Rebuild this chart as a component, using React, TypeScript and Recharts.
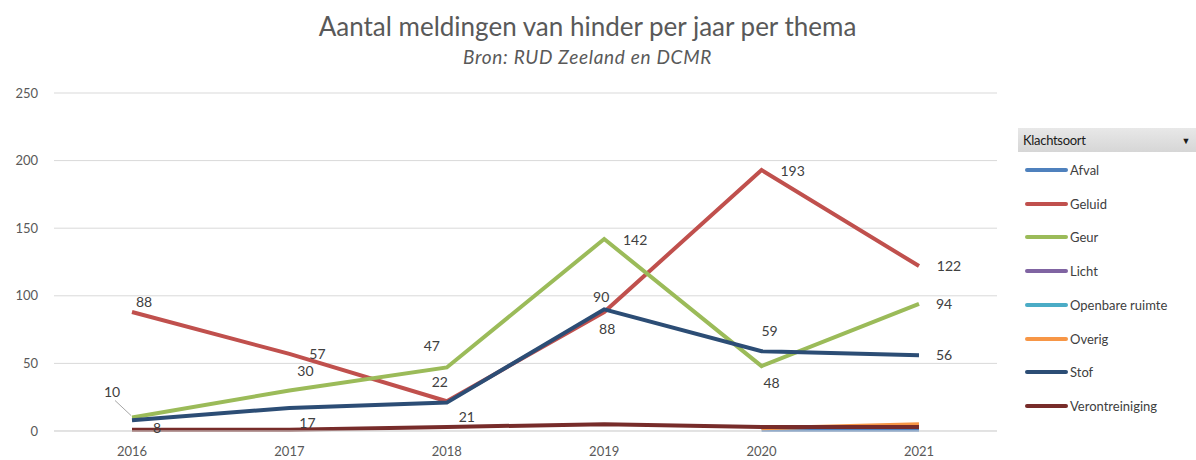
import React from 'react'
import { LineChart, Line, XAxis, YAxis, CartesianGrid } from 'recharts'

const years = ['2016', '2017', '2018', '2019', '2020', '2021']
const afval = [null, null, null, null, 1, 1]
const geluid = [88, 57, 22, 88, 193, 122]
const geur = [10, 30, 47, 142, 48, 94]
const licht = [null, null, null, null, null, null]
const openbareRuimte = [null, null, null, null, null, null]
const overig = [null, null, null, null, 2, 5]
const stof = [8, 17, 21, 90, 59, 56]
const verontreiniging = [1, 1, 3, 5, 3, 3]
const yTicks = [0, 50, 100, 150, 200, 250]

const data = years.map((y, i) => ({
  year: y,
  Afval: afval[i],
  Geluid: geluid[i],
  Geur: geur[i],
  Licht: licht[i],
  'Openbare ruimte': openbareRuimte[i],
  Overig: overig[i],
  Stof: stof[i],
  Verontreiniging: verontreiniging[i],
}))

const series = [
  { key: 'Afval', color: '#4F81BD' },
  { key: 'Geluid', color: '#C0504D' },
  { key: 'Geur', color: '#9BBB59' },
  { key: 'Licht', color: '#8064A2' },
  { key: 'Openbare ruimte', color: '#4BACC6' },
  { key: 'Overig', color: '#F79646' },
  { key: 'Stof', color: '#2C4D75' },
  { key: 'Verontreiniging', color: '#772C2A' },
]

// label offsets (dx, dy) from each point, copied from the Excel layout
const labelOffsets: Record<string, [number, number][]> = {
  Geluid: [[12, -10], [28, 0], [-7, -19], [3, 17], [31, 1], [30, 0]],
  Geur: [[-20, -25], [16, -19], [-15, -21], [31, 1], [10, 17], [25, 0]],
  Stof: [[25, 8], [18, 15], [20, 14], [-3, -12], [8, -20], [25, 0]],
}

const FONT = 'Lato, "Open Sans", sans-serif'
const TEXT = '#404040'

function makeLabel(key: string) {
  return (props: any) => {
    const { x, y, index, value } = props
    const off = labelOffsets[key]?.[index]
    if (!off || value == null) return null
    const lx = x + off[0]
    const ly = y + off[1]
    return (
      <g key={`${key}-${index}`}>
        {key === 'Geur' && index === 0 && (
          <line x1={lx + 3} y1={ly + 8} x2={x - 1} y2={y - 2} stroke="#a6a6a6" strokeWidth={1} />
        )}
        <text x={lx} y={ly} dy="0.35em" textAnchor="middle" fontSize={14} fill={TEXT} fontFamily={FONT}>
          {value}
        </text>
      </g>
    )
  }
}

function LegendBox() {
  return (
    <div style={{ position: 'absolute', left: 1018, top: 128, width: 178, fontFamily: FONT, fontSize: 13, color: TEXT }}>
      <div style={{
        height: 24, background: 'linear-gradient(#e8e8e8, #d6d6d6)', display: 'flex', alignItems: 'center',
        justifyContent: 'space-between', padding: '0 6px 0 5px', color: '#1a1a1a', letterSpacing: '-0.3px',
      }}>
        <span>Klachtsoort</span>
        <span style={{ fontSize: 9 }}>▼</span>
      </div>
      {series.map((s, i) => (
        <div key={s.key} style={{ position: 'absolute', top: 42 + i * 33.7 - 9, left: 7, display: 'flex', alignItems: 'center', height: 18 }}>
          <span style={{ display: 'inline-block', width: 43, height: 4, borderRadius: 2, background: s.color }} />
          <span style={{ marginLeft: 2 }}>{s.key}</span>
        </div>
      ))}
    </div>
  )
}

export default function App() {
  return (
    <div style={{ position: 'absolute', left: 0, top: 0, width: 1196, height: 460, background: '#fff', fontFamily: FONT }}>
      <div style={{ position: 'absolute', left: 0, width: 1175, top: 10, lineHeight: '32px', textAlign: 'center', fontSize: 26, color: '#595959' }}>
        Aantal meldingen van hinder per jaar per thema
      </div>
      <div style={{ position: 'absolute', left: 0, width: 1175, top: 45, lineHeight: '24px', textAlign: 'center', fontSize: 19, letterSpacing: 0.7, fontStyle: 'italic', color: '#595959' }}>
        Bron: RUD Zeeland en DCMR
      </div>
      <LineChart width={1196} height={460} data={data} margin={{ top: 93, right: 199, left: 10, bottom: 0 }}>
        <CartesianGrid vertical={false} stroke="#d9d9d9" />
        <XAxis
          dataKey="year"
          padding={{ left: 78, right: 78 }}
          axisLine={{ stroke: '#d9d9d9' }}
          tickLine={false}
          tickSize={0}
          tickMargin={16}
          height={29}
          tick={{ fontSize: 13, fill: '#595959', fontFamily: FONT }}
        />
        <YAxis
          domain={[0, 250]}
          ticks={yTicks}
          axisLine={false}
          tickLine={false}
          tickSize={0}
          tickMargin={16}
          width={44}
          tick={{ fontSize: 13, fill: '#595959', fontFamily: FONT }}
        />
        {series.map(s => (
          <Line
            key={s.key}
            dataKey={s.key}
            stroke={s.color}
            strokeWidth={4}
            dot={false}
            activeDot={false}
            type="linear"
            isAnimationActive={false}
            label={labelOffsets[s.key] ? makeLabel(s.key) : false}
          />
        ))}
      </LineChart>
      <LegendBox />
    </div>
  )
}
